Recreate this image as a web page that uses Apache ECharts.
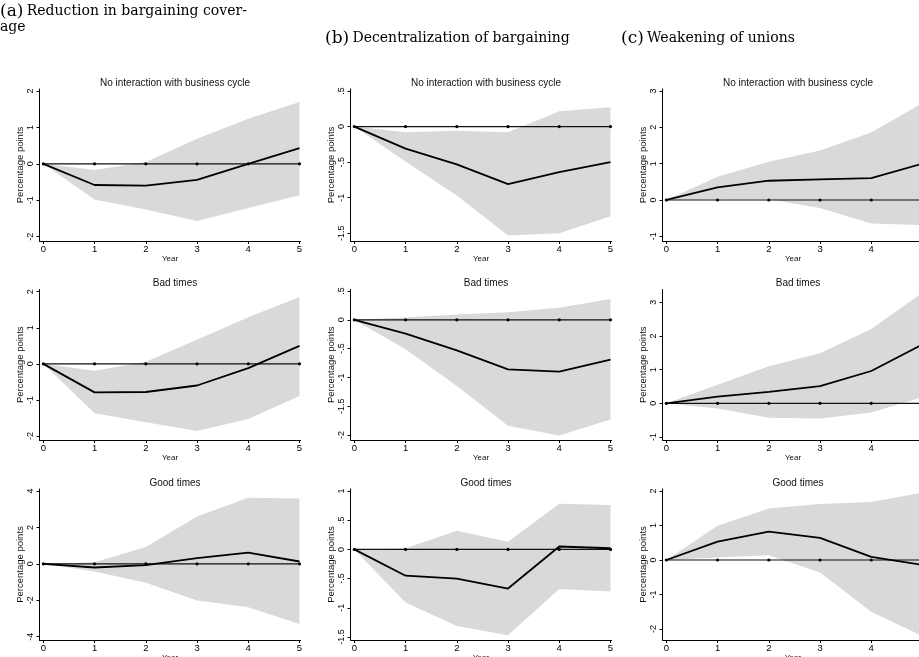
<!DOCTYPE html>
<html>
<head>
<meta charset="utf-8">
<script src="https://cdn.jsdelivr.net/npm/echarts@6/dist/echarts.min.js"></script>
<style>
  html, body { margin: 0; padding: 0; background: #fff; }
  #chart { width: 919px; height: 657px; }
</style>
</head>
<body>
<div id="chart"></div>
<script>
// Horizon (years after the reform)
const years = [0, 1, 2, 3, 4, 5];

// Panel headings and row titles
const columnHeads = [
  ['(a)', 'Reduction in bargaining cover-', 'age'],
  ['(b)', 'Decentralization of bargaining'],
  ['(c)', 'Weakening of unions']
];
const rowTitles = ['No interaction with business cycle', 'Bad times', 'Good times'];

// (a) Reduction in bargaining coverage
const covAllResp  = [0, -0.58, -0.60, -0.44, 0.00, 0.43];
const covAllLo    = [0, -0.98, -1.25, -1.57, -1.21, -0.86];
const covAllHi    = [0, -0.17, 0.05, 0.69, 1.24, 1.70];
const covBadResp  = [0, -0.79, -0.78, -0.60, -0.12, 0.50];
const covBadLo    = [0, -1.37, -1.62, -1.86, -1.53, -0.89];
const covBadHi    = [0, -0.19, 0.06, 0.67, 1.29, 1.85];
const covGoodResp = [0, -0.20, -0.07, 0.31, 0.62, 0.13];
const covGoodLo   = [0, -0.42, -1.04, -2.01, -2.38, -3.30];
const covGoodHi   = [0, 0.09, 0.92, 2.60, 3.63, 3.59];

// (b) Decentralization of bargaining
const decAllResp  = [0, -0.31, -0.53, -0.81, -0.64, -0.50];
const decAllLo    = [0, -0.49, -0.97, -1.53, -1.50, -1.26];
const decAllHi    = [0, -0.08, -0.06, -0.08, 0.215, 0.27];
const decBadResp  = [0, -0.24, -0.53, -0.86, -0.90, -0.69];
const decBadLo    = [0, -0.51, -1.15, -1.84, -2.01, -1.73];
const decBadHi    = [0, 0.04, 0.09, 0.13, 0.21, 0.36];
const decGoodResp = [0, -0.45, -0.50, -0.67, 0.05, 0.02];
const decGoodLo   = [0, -0.91, -1.31, -1.47, -0.68, -0.72];
const decGoodHi   = [0, 0.02, 0.32, 0.13, 0.78, 0.76];

// (c) Weakening of unions
const uniAllResp  = [0, 0.35, 0.53, 0.57, 0.60, 1.00];
const uniAllLo    = [0, 0.03, 0.02, -0.22, -0.65, -0.69];
const uniAllHi    = [0, 0.64, 1.05, 1.36, 1.86, 2.67];
const uniBadResp  = [0, 0.20, 0.34, 0.51, 0.96, 1.75];
const uniBadLo    = [0, -0.15, -0.43, -0.45, -0.27, 0.18];
const uniBadHi    = [0, 0.55, 1.10, 1.49, 2.21, 3.28];
const uniGoodResp = [0, 0.53, 0.82, 0.64, 0.09, -0.14];
const uniGoodLo   = [0, 0.07, 0.14, -0.36, -1.50, -2.21];
const uniGoodHi   = [0, 0.99, 1.49, 1.62, 1.68, 1.95];

// Y-axis tick labels per panel (row-major: a, b, c)
const yTicks = [
  [-2, -1, 0, 1, 2], [-1.5, -1, -0.5, 0, 0.5], [-1, 0, 1, 2, 3],
  [-2, -1, 0, 1, 2], [-2, -1.5, -1, -0.5, 0, 0.5], [-1, 0, 1, 2, 3],
  [-4, -2, 0, 2, 4], [-1.5, -1, -0.5, 0, 0.5, 1], [-2, -1, 0, 1, 2]
];

const panels = [
  [covAllResp, covAllLo, covAllHi], [decAllResp, decAllLo, decAllHi], [uniAllResp, uniAllLo, uniAllHi],
  [covBadResp, covBadLo, covBadHi], [decBadResp, decBadLo, decBadHi], [uniBadResp, uniBadLo, uniBadHi],
  [covGoodResp, covGoodLo, covGoodHi], [decGoodResp, decGoodLo, decGoodHi], [uniGoodResp, uniGoodLo, uniGoodHi]
];

// Layout: plot regions (axis extents include a small margin around the ticks)
const colLeft = [39.5, 350.5, 662.5];
const colWidth = 261;
const rowBox = [[89, 241], [289.5, 440], [489, 640]];
const yRange = [
  [-2.118, 2.055], [-1.608, 0.528], [-1.129, 3.055],
  [-2.111, 2.061], [-2.087, 0.526], [-1.089, 3.38],
  [-4.18, 4.11],   [-1.551, 1.034], [-2.319, 2.058]
];
const xRange = [-0.075, 5.02];

const sans = 'Liberation Sans, Arial, sans-serif';
const fmt = v => {
  const r = Math.round(v * 100) / 100;
  return String(r).replace(/^(-?)0\./, '$1.');
};

const grid = [], xAxis = [], yAxis = [], series = [], title = [];

for (let p = 0; p < 9; p++) {
  const r = Math.floor(p / 3), c = p % 3;
  grid.push({
    left: colLeft[c], width: colWidth,
    top: rowBox[r][0], height: rowBox[r][1] - rowBox[r][0],
    containLabel: false,
    outerBoundsMode: 'none'
  });
  title.push({
    text: rowTitles[r],
    left: colLeft[c] + colWidth / 2,
    top: rowBox[r][0] - 16,
    textAlign: 'center',
    textStyle: { fontFamily: sans, fontSize: 10, fontWeight: 'normal', color: '#111' }
  });
  xAxis.push({
    type: 'value', gridIndex: p, min: xRange[0], max: xRange[1],
    name: 'Year', nameLocation: 'middle', nameGap: 11,
    nameTextStyle: { fontFamily: sans, fontSize: 8, color: '#111' },
    axisLine: { show: true, onZero: false, lineStyle: { color: '#000', width: 1 } },
    axisTick: { show: true, length: 3, customValues: years, lineStyle: { color: '#000' } },
    axisLabel: { customValues: years, margin: 3, fontFamily: sans, fontSize: 9.5, color: '#000' },
    splitLine: { show: false }
  });
  yAxis.push({
    type: 'value', gridIndex: p, min: yRange[p][0], max: yRange[p][1],
    name: 'Percentage points', nameLocation: 'middle', nameGap: 13, nameRotate: 90,
    nameTextStyle: { fontFamily: sans, fontSize: 9.5, color: '#111' },
    axisLine: { show: true, onZero: false, lineStyle: { color: '#000', width: 1 } },
    axisTick: { show: true, length: 3, customValues: yTicks[p], lineStyle: { color: '#000' } },
    axisLabel: { customValues: yTicks[p], rotate: 90, margin: 4, fontFamily: sans, fontSize: 9, color: '#000', formatter: fmt },
    splitLine: { show: false }
  });

  const [resp, lo, hi] = panels[p];

  // Confidence band: one polygon through the upper and lower bounds
  series.push({
    type: 'custom', xAxisIndex: p, yAxisIndex: p, silent: true, z: 1,
    data: years.map((y, i) => [y, lo[i], hi[i]]),
    encode: { x: 0, y: [1, 2] },
    renderItem: (params, api) => {
      if (params.dataIndex !== 0) return null;
      const upper = years.map((y, i) => api.coord([y, hi[i]]));
      const lower = years.map((y, i) => api.coord([y, lo[i]])).reverse();
      return {
        type: 'polygon',
        shape: { points: upper.concat(lower) },
        style: { fill: '#d9d9d9', stroke: null }
      };
    }
  });

  // Zero reference line with year markers
  series.push({
    type: 'line', xAxisIndex: p, yAxisIndex: p, silent: true, z: 2,
    data: years.map(y => [y, 0]),
    symbol: 'circle', symbolSize: 3.2, showSymbol: true,
    itemStyle: { color: '#000' },
    lineStyle: { color: '#111', width: 1.2 },
    animation: false
  });

  // Impulse response
  series.push({
    type: 'line', xAxisIndex: p, yAxisIndex: p, silent: true, z: 3,
    data: years.map((y, i) => [y, resp[i]]),
    symbol: 'none',
    lineStyle: { color: '#000', width: 1.8 },
    animation: false
  });
}

const serif = 'DejaVu Serif, serif';
const headStyle = {
  rich: {
    p: { fontFamily: serif, fontSize: 17, fill: '#000' },
    t: { fontFamily: serif, fontSize: 14, fill: '#000' }
  }
};
const headPos = [[0, 3], [325, 30], [621, 30]];
const graphic = columnHeads.map((h, i) => ({
  type: 'text', left: headPos[i][0], top: headPos[i][1],
  style: Object.assign({ text: '{p|' + h[0] + '} {t|' + h[1] + '}' }, headStyle)
}));
graphic.push({
  type: 'text', left: 0, top: 20,
  style: { text: columnHeads[0][2], fontFamily: serif, fontSize: 14, fill: '#000' }
});

const chart = echarts.init(document.getElementById('chart'), null, { renderer: 'canvas' });
chart.setOption({
  animation: false,
  backgroundColor: '#fff',
  title, grid, xAxis, yAxis, series, graphic
});
</script>
</body>
</html>
